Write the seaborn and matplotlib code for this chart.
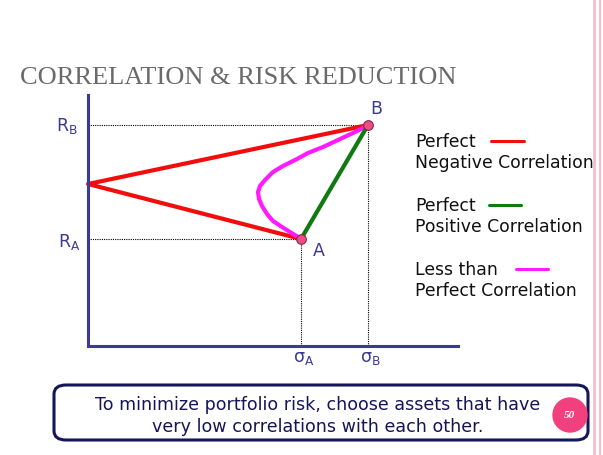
import numpy as np
import pandas as pd
import matplotlib
matplotlib.use("Agg")
import matplotlib.pyplot as plt
from matplotlib.patches import FancyBboxPatch, Ellipse
import seaborn as sns

# Data (risk sigma, return R)
sigma_a, r_a = 21.3, 10.7
sigma_b, r_b = 28.0, 22.1
vertex_r = 16.2

neg_sigma = [sigma_a, 0.0, sigma_b]
neg_r = [r_a, vertex_r, r_b]

pos_sigma = [sigma_a, sigma_b]
pos_r = [r_a, r_b]

less_sigma = [21.3, 21.0, 20.2, 19.4, 18.5, 17.9, 17.4, 17.1, 17.0, 17.2, 17.7, 18.5, 19.5, 20.9, 22.0,
              23.5, 25.0, 26.5, 27.5, 28.0]
less_r = [10.7, 10.9, 11.4, 11.9, 12.5, 13.2, 14.0, 14.7, 15.4, 16.0, 16.6, 17.4, 18.0, 18.7, 19.3,
          19.9, 20.6, 21.3, 21.8, 22.1]

legend_labels = [("Perfect", "Negative Correlation"),
                 ("Perfect", "Positive Correlation"),
                 ("Less than", "Perfect Correlation")]

W, H = 603, 456
navy = "#3b3b94"
sns.set_style("white")
plt.rcParams['font.family'] = ['DejaVu Sans']

fig = plt.figure(figsize=(W / 100, H / 100), dpi=100)


def fx(x):
    return x / W


def fy(y):
    return 1 - y / H


# main axes
ax = fig.add_axes([fx(88), fy(347), (458 - 88) / W, (347 - 96) / H])
ax.set_xlim(0, 37)
ax.set_ylim(0, 25.1)
ax.set_xticks([])
ax.set_yticks([])
for s in ["top", "right"]:
    ax.spines[s].set_visible(False)
for s in ["left", "bottom"]:
    ax.spines[s].set_color(navy)
    ax.spines[s].set_linewidth(2.2)

# dotted guides
ax.plot([0, sigma_b], [r_b, r_b], ls=(0, (1, 1)), color="black", lw=0.8)
ax.plot([0, sigma_a], [r_a, r_a], ls=(0, (1, 1)), color="black", lw=0.8)
ax.plot([sigma_a, sigma_a], [0, r_a], ls=(0, (1, 1)), color="black", lw=0.8)
ax.plot([sigma_b, sigma_b], [0, r_b], ls=(0, (1, 1)), color="black", lw=0.8)

df_neg = pd.DataFrame({"sigma": neg_sigma, "R": neg_r})
df_pos = pd.DataFrame({"sigma": pos_sigma, "R": pos_r})
df_less = pd.DataFrame({"sigma": less_sigma, "R": less_r})

sns.lineplot(data=df_neg, x="sigma", y="R", sort=False, estimator=None,
             color="#f20d0d", lw=3.0, ax=ax, clip_on=False, solid_joinstyle="round")
sns.lineplot(data=df_less, x="sigma", y="R", sort=False, estimator=None,
             color="#ff1aff", lw=3.0, ax=ax, solid_joinstyle="round", solid_capstyle="round")
sns.lineplot(data=df_pos, x="sigma", y="R", sort=False, estimator=None,
             color="#0f7a0f", lw=3.0, ax=ax)
sns.scatterplot(x=pos_sigma, y=pos_r, s=48, color="#ee4d87",
                edgecolor="#8a2440", linewidth=0.8, ax=ax, zorder=5, clip_on=False)
ax.set_xlabel("")
ax.set_ylabel("")

# point and axis labels
fig.text(fx(56), fy(126), r"$\mathregular{R_B}$", color=navy, fontsize=12.5, va="center")
fig.text(fx(58), fy(242), r"$\mathregular{R_A}$", color=navy, fontsize=12.5, va="center")
fig.text(fx(293), fy(358), r"$\mathregular{\sigma_A}$", color=navy, fontsize=12.5, va="center")
fig.text(fx(360), fy(358), r"$\mathregular{\sigma_B}$", color=navy, fontsize=12.5, va="center")
fig.text(fx(313), fy(251), "A", color=navy, fontsize=12.5, va="center")
fig.text(fx(370), fy(109), "B", color=navy, fontsize=12.5, va="center")

# legend
leg_colors = ["#f20d0d", "#0f7a0f", "#ff1aff"]
leg_y = [142, 206, 270]
leg_x = [(491, 524), (489, 521), (516, 548)]
for (l1, l2), c, y, (x0, x1) in zip(legend_labels, leg_colors, leg_y, leg_x):
    fig.text(fx(415), fy(y), l1, fontsize=12.4, va="center", color="#111111")
    fig.text(fx(415), fy(y + 21), l2, fontsize=12.4, va="center", color="#111111")
    fig.add_artist(plt.Line2D([fx(x0), fx(x1)], [fy(y), fy(y)], color=c, lw=2.2))

# title
fig.text(fx(20), fy(78), "CORRELATION & RISK REDUCTION", family="Liberation Serif",
         fontsize=19, color="#6a6a6a", va="center")

# bottom note box
box = FancyBboxPatch((fx(54), fy(441)), fx(588 - 54), (441 - 386) / H,
                     boxstyle="round,pad=0,rounding_size=0.02",
                     transform=fig.transFigure, fill=False,
                     edgecolor="#15155a", lw=2.2)
fig.add_artist(box)
fig.text(fx(318), fy(405), "To minimize portfolio risk, choose assets that have",
         fontsize=12.6, color="#15155a", ha="center", va="center")
fig.text(fx(318), fy(427), "very low correlations with each other.",
         fontsize=12.6, color="#15155a", ha="center", va="center")

# page number badge
fig.add_artist(Ellipse((fx(570), fy(416)), 34 / W, 34 / H, color="#f2407e",
                       transform=fig.transFigure, zorder=4))
fig.text(fx(570), fy(416), "50", family="Liberation Serif", style="italic",
         weight="bold", fontsize=8, color="white", ha="center", va="center", zorder=5)

# pink page edge lines
fig.add_artist(plt.Line2D([fx(594), fx(594)], [0, 1], color="#f5bccb", lw=2.0))
fig.add_artist(plt.Line2D([fx(600), fx(600)], [0, 1], color="#f5bccb", lw=1.5))

fig.savefig("out.png", dpi=100)
